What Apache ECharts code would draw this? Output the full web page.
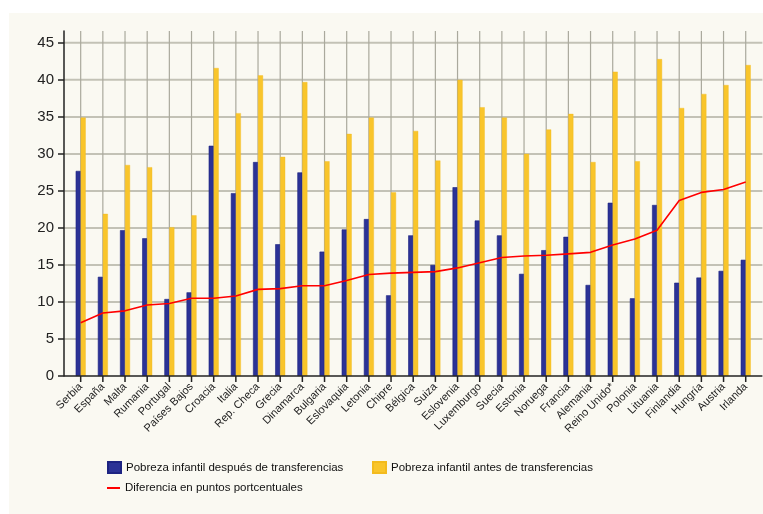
<!DOCTYPE html>
<html>
<head>
<meta charset="utf-8">
<script src="https://cdn.jsdelivr.net/npm/echarts@6/dist/echarts.min.js"></script>
<style>
html,body{margin:0;padding:0;background:#ffffff;}
#c{width:763px;height:514px;}
</style>
</head>
<body>
<div id="c"></div>
<script>
const categories = ["Serbia","España","Malta","Rumania","Portugal","Países Bajos","Croacia","Italia","Rep. Checa","Grecia","Dinamarca","Bulgaria","Eslovaquia","Letonia","Chipre","Bélgica","Suiza","Eslovenia","Luxemburgo","Suecia","Estonia","Noruega","Francia","Alemania","Reino Unido*","Polonia","Lituania","Finlandia","Hungría","Austria","Irlanda"];
const despues = [27.7,13.4,19.7,18.6,10.4,11.3,31.1,24.7,28.9,17.8,27.5,16.8,19.8,21.2,10.9,19.0,15.0,25.5,21.0,19.0,13.8,17.0,18.8,12.3,23.4,10.5,23.1,12.6,13.3,14.2,15.7];
const antes = [34.9,21.9,28.5,28.2,20.1,21.7,41.6,35.5,40.6,29.6,39.7,29.0,32.7,34.9,24.8,33.1,29.1,40.0,36.3,34.9,30.0,33.3,35.4,28.9,41.1,29.0,42.8,36.2,38.1,39.3,42.0];
const diferencia = [7.2,8.5,8.8,9.6,9.8,10.5,10.5,10.8,11.7,11.8,12.2,12.2,12.9,13.7,13.9,14.0,14.1,14.6,15.3,16.0,16.2,16.3,16.5,16.7,17.7,18.5,19.7,23.7,24.8,25.2,26.2];
const yTicks = [0,5,10,15,20,25,30,35,40,45];
const yMax = 46.6;

const names = ["Pobreza infantil después de transferencias","Pobreza infantil antes de transferencias","Diferencia en puntos portcentuales"];
const font = "'Liberation Sans', Arial, sans-serif";
const PAD = 5.6;

function gridRender(params, api) {
  const cs = params.coordSys;
  const x0 = cs.x - PAD, x1 = cs.x + cs.width + PAD;
  const children = [];
  yTicks.forEach(v => {
    if (v === 0) return;
    const y = api.coord([0, v])[1];
    children.push({type: 'line', shape: {x1: x0, y1: y, x2: x1, y2: y}, style: {stroke: '#c3c2b6', lineWidth: 2}});
  });
  categories.forEach((c, i) => {
    const x = api.coord([i, 0])[0];
    children.push({type: 'line', shape: {x1: x, y1: cs.y, x2: x, y2: cs.y + cs.height}, style: {stroke: '#aaa99d', lineWidth: 1.2}});
  });
  return {type: 'group', children: children};
}
function axisRender(params, api) {
  const cs = params.coordSys;
  const x0 = cs.x - PAD, x1 = cs.x + cs.width + PAD;
  const y = api.coord([0, 0])[1];
  const children = [{type: 'line', shape: {x1: x0, y1: y, x2: x1, y2: y}, style: {stroke: '#222', lineWidth: 1.5}}];
  categories.forEach((c, i) => {
    const x = api.coord([i, 0])[0];
    children.push({type: 'line', shape: {x1: x, y1: y, x2: x, y2: y + 6}, style: {stroke: '#222', lineWidth: 1.5}});
  });
  return {type: 'group', children: children};
}

const legendText = {fontSize: 11.5, color: '#111', fontFamily: font};
const chart = echarts.init(document.getElementById('c'));
chart.setOption({
  backgroundColor: '#ffffff',
  animation: false,
  graphic: [{type:'rect', left: 9, top: 13, shape:{width: 754, height: 501}, style:{fill:'#faf9f2'}, z: -10}],
  textStyle: {fontFamily: font},
  grid: {left: 69.6, right: 6.2, top: 31, bottom: 138, containLabel: false},
  xAxis: {type: 'category', data: categories, boundaryGap: true,
     axisLine: {show: false},
     axisTick: {show: false},
     splitLine: {show: false},
     axisLabel: {interval: 0, rotate: 45, fontSize: 11, color: '#222', margin: 9, fontFamily: font}
  },
  yAxis: {type: 'value', min: 0, max: yMax, offset: PAD,
     axisLine: {show: true, lineStyle: {color: '#222', width: 1.5}},
     axisTick: {show: true, length: 6, customValues: yTicks, lineStyle: {color: '#222', width: 1.5}},
     axisLabel: {fontSize: 15, color: '#222', margin: 10, fontFamily: font, customValues: yTicks},
     splitLine: {show: false}
  },
  legend: [
    {data: [{name: names[0], icon: 'rect'}], left: 102, top: 456, itemWidth: 13, itemHeight: 11, textStyle: legendText},
    {data: [{name: names[1], icon: 'rect'}], left: 367, top: 456, itemWidth: 13, itemHeight: 11, textStyle: legendText},
    {data: [{name: names[2], icon: 'rect'}], left: 102, top: 477, itemWidth: 13, itemHeight: 2, textStyle: legendText}
  ],
  series: [
    {type: 'custom', renderItem: gridRender, data: [[0, 0]], clip: false, silent: true, z: 0},
    {name: names[0], type: 'bar', data: despues, barWidth: 5, barGap: '0%', z: 2,
     itemStyle: {color: '#2b3296', borderColor: '#1d2382', borderWidth: 0.6}},
    {name: names[1], type: 'bar', data: antes, barWidth: 5, barGap: '0%', z: 2,
     itemStyle: {color: '#f9c52b', borderColor: '#f3bb1e', borderWidth: 0.4}},
    {name: names[2], type: 'line', data: diferencia, showSymbol: false, symbol: 'none',
     lineStyle: {color: '#ff0000', width: 1.6}, itemStyle: {color: '#ff0000'}, z: 5},
    {type: 'custom', renderItem: axisRender, data: [[0, 0]], clip: false, silent: true, z: 10}
  ]
});
</script>
</body>
</html>
